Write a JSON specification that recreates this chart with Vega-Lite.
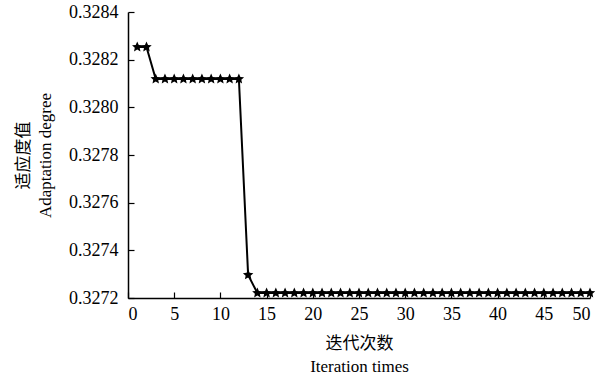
{
  "$schema": "https://vega.github.io/schema/vega-lite/v6.json",
  "width": 462,
  "height": 286,
  "autosize": {"type": "none"},
  "padding": {"left": 128, "top": 12, "right": 10, "bottom": 84},
  "background": "white",
  "config": {
    "view": {"stroke": null},
    "font": "Liberation Serif, Noto Sans CJK SC"
  },
  "data": {
    "values": [
      {"iter": 1, "fit": 0.328253}, {"iter": 2, "fit": 0.328253},
      {"iter": 3, "fit": 0.328119}, {"iter": 4, "fit": 0.328119}, {"iter": 5, "fit": 0.328119},
      {"iter": 6, "fit": 0.328119}, {"iter": 7, "fit": 0.328119}, {"iter": 8, "fit": 0.328119},
      {"iter": 9, "fit": 0.328119}, {"iter": 10, "fit": 0.328119}, {"iter": 11, "fit": 0.328119},
      {"iter": 12, "fit": 0.328119},
      {"iter": 13, "fit": 0.327297},
      {"iter": 14, "fit": 0.327221}, {"iter": 15, "fit": 0.327221}, {"iter": 16, "fit": 0.327221},
      {"iter": 17, "fit": 0.327221}, {"iter": 18, "fit": 0.327221}, {"iter": 19, "fit": 0.327221},
      {"iter": 20, "fit": 0.327221}, {"iter": 21, "fit": 0.327221}, {"iter": 22, "fit": 0.327221},
      {"iter": 23, "fit": 0.327221}, {"iter": 24, "fit": 0.327221}, {"iter": 25, "fit": 0.327221},
      {"iter": 26, "fit": 0.327221}, {"iter": 27, "fit": 0.327221}, {"iter": 28, "fit": 0.327221},
      {"iter": 29, "fit": 0.327221}, {"iter": 30, "fit": 0.327221}, {"iter": 31, "fit": 0.327221},
      {"iter": 32, "fit": 0.327221}, {"iter": 33, "fit": 0.327221}, {"iter": 34, "fit": 0.327221},
      {"iter": 35, "fit": 0.327221}, {"iter": 36, "fit": 0.327221}, {"iter": 37, "fit": 0.327221},
      {"iter": 38, "fit": 0.327221}, {"iter": 39, "fit": 0.327221}, {"iter": 40, "fit": 0.327221},
      {"iter": 41, "fit": 0.327221}, {"iter": 42, "fit": 0.327221}, {"iter": 43, "fit": 0.327221},
      {"iter": 44, "fit": 0.327221}, {"iter": 45, "fit": 0.327221}, {"iter": 46, "fit": 0.327221},
      {"iter": 47, "fit": 0.327221}, {"iter": 48, "fit": 0.327221}, {"iter": 49, "fit": 0.327221},
      {"iter": 50, "fit": 0.327221}
    ]
  },
  "encoding": {
    "x": {
      "field": "iter",
      "type": "quantitative",
      "scale": {"domain": [0, 50], "nice": false},
      "axis": {
        "values": [0, 5, 10, 15, 20, 25, 30, 35, 40, 45, 50],
        "format": "d",
        "grid": false,
        "domainColor": "black",
        "domainWidth": 1.5,
        "tickColor": "black",
        "tickWidth": 1.2,
        "tickSize": -6,
        "labelFont": "Liberation Serif",
        "labelFontSize": 18,
        "labelColor": "black",
        "labelPadding": 13,
        "title": ["迭代次数", "Iteration times"],
        "titleFont": "Liberation Serif, Noto Sans CJK SC",
        "titleFontSize": 17,
        "titleFontWeight": "normal",
        "titleColor": "black",
        "titleLineHeight": 23,
        "titlePadding": 12
      }
    },
    "y": {
      "field": "fit",
      "type": "quantitative",
      "scale": {"domain": [0.3272, 0.3284], "nice": false, "zero": false},
      "axis": {
        "values": [0.3272, 0.3274, 0.3276, 0.3278, 0.328, 0.3282, 0.3284],
        "format": ".4f",
        "grid": false,
        "domainColor": "black",
        "domainWidth": 1.5,
        "tickColor": "black",
        "tickWidth": 1.2,
        "tickSize": -6,
        "labelFont": "Liberation Serif",
        "labelFontSize": 18,
        "labelColor": "black",
        "labelPadding": 16,
        "title": ["适应度值", "Adaptation degree"],
        "titleFont": "Liberation Serif, Noto Sans CJK SC",
        "titleFontSize": 17,
        "titleFontWeight": "normal",
        "titleColor": "black",
        "titleLineHeight": 22,
        "titlePadding": 14
      }
    }
  },
  "layer": [
    {"mark": {"type": "line", "color": "black", "strokeWidth": 2}},
    {"mark": {"type": "point", "shape": "M0,-1L0.28,-0.38L0.951,-0.309L0.45,0.147L0.588,0.809L0,0.47L-0.588,0.809L-0.45,0.147L-0.951,-0.309L-0.28,-0.38Z", "filled": true, "color": "black", "opacity": 1, "size": 120}}
  ]
}
